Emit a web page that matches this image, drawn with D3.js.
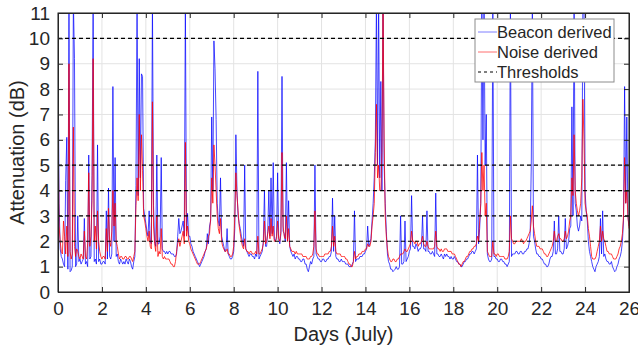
<!DOCTYPE html>
<html>
<head>
<meta charset="utf-8">
<script src="https://cdn.jsdelivr.net/npm/d3@7"></script>
<style>
  body { margin: 0; background: #fff; }
  text { font-family: "Liberation Sans", Arial, sans-serif; fill: #262626; }
</style>
</head>
<body>
<div class="canvas"></div>
<script>
// samples every 0.05 day, day 0 .. 26 (one row per day)
const step = 0.05;
const beacon = [
  9.8, 3.5, 1.7, 1.4, 1.3, 1.1, 1.0, 4.4, 6.1, 0.9, 11.5, 0.8, 0.85, 1.0, 11.5, 9.2, 1.0, 1.1, 3.0, 1.2,
  1.3, 1.1, 1.2, 1.3, 2.9, 1.1, 1.2, 1.0, 5.4, 1.3, 1.4, 4.6, 11.5, 1.2, 1.3, 1.1, 5.8, 1.2, 1.3, 1.1,
  1.1, 1.2, 1.2, 1.1, 3.2, 1.3, 4.1, 1.4, 1.3, 1.5, 8.1, 2.0, 5.3, 1.4, 1.5, 1.2, 1.1, 1.3, 1.2, 1.1,
  1.2, 1.1, 1.3, 1.2, 1.1, 1.3, 1.2, 1.0, 0.9, 1.2, 1.4, 4.2, 11.5, 3.8, 9.2, 4.5, 8.6, 8.5, 3.3, 3.0,
  2.7, 2.4, 2.2, 3.2, 2.0, 1.9, 11.5, 3.4, 2.0, 1.8, 5.4, 1.9, 1.9, 2.2, 5.3, 1.7, 1.6, 1.6, 1.5, 1.6,
  1.5, 1.6, 1.6, 1.5, 1.5, 1.5, 1.4, 1.4, 1.5, 2.2, 2.9, 2.3, 2.4, 2.6, 2.8, 2.2, 11.5, 2.4, 3.1, 2.2,
  2.2, 1.9, 1.8, 1.6, 1.5, 1.4, 1.3, 1.2, 1.1, 1.0, 1.1, 1.2, 1.3, 1.4, 1.6, 1.7, 2.3, 1.9, 2.6, 2.8,
  6.9, 4.0, 9.9, 8.8, 6.8, 3.5, 2.8, 2.6, 4.5, 2.2, 2.0, 1.8, 1.6, 1.7, 2.5, 1.5, 1.4, 1.3, 1.3, 1.4,
  1.6, 2.5, 6.2, 4.0, 3.0, 2.7, 2.5, 2.2, 2.0, 1.8, 5.0, 1.7, 1.6, 1.5, 1.4, 1.5, 1.5, 1.4, 1.4, 1.3,
  1.5, 1.4, 8.7, 1.3, 1.4, 1.5, 1.6, 2.0, 4.0, 1.8, 1.8, 2.4, 4.0, 2.2, 4.5, 2.3, 5.1, 2.1, 2.0, 2.2,
  4.7, 2.1, 1.9, 2.3, 8.5, 2.4, 2.3, 2.0, 5.1, 2.0, 3.6, 1.8, 1.6, 1.5, 1.4, 1.5, 1.3, 1.4, 1.4, 1.3,
  1.3, 1.2, 1.2, 1.3, 1.3, 1.1, 1.1, 0.9, 0.8, 1.0, 1.2, 1.1, 1.3, 1.4, 5.0, 1.5, 1.4, 1.3, 1.3, 1.2,
  1.2, 1.3, 1.3, 1.2, 1.2, 1.3, 1.3, 1.4, 1.4, 1.6, 3.7, 1.6, 3.0, 1.4, 1.3, 1.3, 1.2, 1.2, 1.3, 1.2,
  1.2, 1.2, 1.1, 1.1, 1.1, 1.0, 1.0, 1.0, 1.1, 1.2, 3.2, 1.2, 1.3, 1.3, 1.3, 1.4, 1.4, 1.4, 1.5, 1.5,
  1.6, 1.7, 2.6, 1.8, 1.9, 2.1, 2.8, 3.5, 4.5, 6.0, 11.5, 5.0, 11.5, 4.5, 8.3, 4.0, 11.5, 5.0, 3.5, 2.4,
  1.5, 1.2, 1.1, 0.9, 0.9, 0.8, 0.85, 0.9, 1.0, 0.9, 0.9, 1.0, 3.0, 1.1, 1.1, 1.2, 2.8, 1.2, 1.3, 1.4,
  1.6, 1.7, 3.8, 1.8, 1.8, 1.7, 1.9, 1.8, 1.6, 1.7, 1.7, 1.8, 3.0, 1.7, 1.7, 1.6, 3.2, 1.6, 1.6, 1.5,
  1.5, 1.6, 1.5, 1.4, 3.9, 1.5, 1.5, 1.4, 1.4, 1.5, 1.4, 1.3, 1.5, 1.4, 1.5, 1.4, 1.4, 1.3, 1.4, 1.3,
  1.3, 1.4, 1.3, 1.2, 1.2, 1.1, 1.1, 1.0, 1.0, 1.1, 1.2, 1.2, 1.3, 1.3, 1.4, 1.5, 1.5, 1.6, 1.6, 1.5,
  1.6, 1.7, 5.4, 1.9, 2.5, 3.5, 11.5, 6.0, 11.5, 5.0, 7.0, 1.5, 1.3, 1.2, 1.2, 1.3, 11.5, 1.4, 1.4, 1.3,
  1.3, 1.2, 1.2, 1.3, 1.3, 1.2, 1.2, 1.1, 1.1, 1.0, 1.1, 1.2, 11.5, 1.4, 1.5, 1.5, 1.5, 1.6, 1.6, 1.5,
  1.5, 1.6, 1.6, 1.5, 1.5, 1.6, 1.6, 1.7, 1.7, 1.9, 2.3, 5.0, 11.5, 2.2, 2.0, 1.7, 1.5, 1.5, 1.4, 1.4,
  1.3, 1.3, 1.2, 1.1, 1.1, 1.0, 1.0, 1.1, 1.3, 1.4, 1.4, 1.6, 2.8, 1.5, 1.5, 1.7, 3.0, 1.6, 1.6, 1.5,
  1.5, 1.7, 2.9, 1.7, 1.8, 2.0, 2.5, 2.6, 7.3, 3.0, 11.5, 3.5, 3.2, 2.6, 2.4, 2.6, 3.0, 2.8, 11.5, 11.5,
  4.0, 3.2, 2.8, 2.0, 1.6, 1.4, 1.2, 1.0, 0.9, 0.8, 1.0, 1.1, 1.2, 1.4, 2.9, 1.5, 3.2, 1.4, 1.5, 1.3,
  1.2, 1.2, 1.1, 1.1, 1.2, 1.0, 0.9, 0.8, 0.85, 1.0, 1.1, 1.3, 1.4, 1.6, 2.0, 2.8, 8.1, 3.5, 6.9, 3.0,
  2.6
];
const noise = [
  7.0, 2.6, 2.0, 1.6, 1.5, 2.8, 2.2, 1.5, 2.6, 1.4, 9.0, 1.6, 1.3, 1.5, 6.5, 1.8, 1.4, 1.7, 1.6, 1.4,
  1.3, 1.5, 1.4, 1.3, 2.4, 1.4, 1.3, 1.9, 4.7, 1.8, 2.2, 3.6, 9.2, 2.0, 2.6, 1.7, 3.2, 2.0, 1.6, 1.4,
  1.3, 1.4, 1.4, 1.3, 2.5, 1.6, 3.3, 2.0, 1.8, 2.4, 4.0, 2.6, 3.5, 2.0, 1.8, 1.5, 1.3, 1.4, 1.4, 1.3,
  1.3, 1.4, 1.4, 1.3, 1.3, 1.4, 1.4, 1.3, 1.2, 1.4, 1.6, 3.4, 4.5, 3.6, 7.0, 4.0, 6.2, 4.8, 3.0, 2.8,
  2.5, 2.2, 2.0, 2.4, 1.8, 1.7, 7.5, 2.6, 1.9, 1.6, 3.0, 1.4, 1.6, 1.5, 2.5, 1.4, 1.3, 1.4, 1.3, 1.3,
  1.3, 1.3, 1.2, 1.1, 1.1, 1.0, 1.0, 1.2, 1.6, 1.9, 2.1, 1.8, 2.0, 2.2, 2.4, 1.9, 5.9, 2.2, 2.6, 2.0,
  1.9, 1.7, 1.6, 1.5, 1.4, 1.3, 1.2, 1.1, 1.1, 1.1, 1.2, 1.3, 1.4, 1.5, 1.6, 1.7, 1.9, 2.2, 2.3, 2.9,
  4.5, 3.5, 5.8, 5.0, 4.0, 3.0, 2.5, 2.3, 2.9, 2.0, 1.8, 1.7, 1.6, 1.6, 1.7, 1.5, 1.5, 1.4, 1.4, 1.5,
  1.8, 3.0, 4.7, 3.8, 3.2, 2.6, 2.3, 2.0, 1.8, 1.7, 2.1, 1.7, 1.6, 1.6, 1.5, 1.6, 1.6, 1.5, 1.5, 1.5,
  1.6, 1.5, 2.2, 1.5, 1.5, 1.6, 1.7, 1.9, 2.8, 1.9, 2.0, 2.3, 2.6, 2.1, 2.9, 2.2, 2.6, 2.0, 2.0, 2.1,
  2.8, 2.1, 2.0, 2.4, 5.5, 2.6, 2.2, 2.1, 3.0, 2.0, 2.5, 1.8, 1.7, 1.6, 1.6, 1.6, 1.5, 1.6, 1.5, 1.5,
  1.5, 1.5, 1.5, 1.4, 1.4, 1.4, 1.4, 1.3, 1.3, 1.3, 1.4, 1.4, 1.5, 1.8, 3.2, 1.7, 1.5, 1.5, 1.4, 1.4,
  1.4, 1.4, 1.4, 1.5, 1.5, 1.5, 1.5, 1.6, 1.6, 1.8, 2.6, 1.8, 2.2, 1.6, 1.5, 1.5, 1.5, 1.5, 1.4, 1.4,
  1.4, 1.4, 1.3, 1.3, 1.2, 1.1, 1.1, 1.0, 1.0, 1.2, 1.6, 1.3, 1.4, 1.4, 1.5, 1.5, 1.5, 1.6, 1.6, 1.6,
  1.7, 1.7, 1.9, 1.8, 1.8, 2.0, 2.6, 3.0, 3.5, 5.5, 7.4, 4.5, 5.0, 4.0, 4.0, 5.5, 11.5, 6.0, 3.0, 2.2,
  1.7, 1.4, 1.3, 1.2, 1.2, 1.3, 1.3, 1.2, 1.2, 1.3, 1.3, 1.4, 1.5, 1.5, 1.5, 1.6, 1.7, 1.6, 1.6, 1.7,
  1.8, 1.9, 2.4, 2.0, 2.0, 1.9, 2.0, 2.0, 1.8, 1.9, 1.9, 2.0, 2.2, 1.9, 1.8, 1.8, 2.0, 1.8, 1.7, 1.7,
  1.7, 1.7, 1.7, 1.8, 2.4, 1.8, 1.7, 1.7, 1.6, 1.7, 1.6, 1.6, 1.7, 1.7, 1.7, 1.6, 1.6, 1.6, 1.6, 1.5,
  1.5, 1.5, 1.4, 1.3, 1.2, 1.1, 1.1, 1.0, 1.1, 1.2, 1.2, 1.3, 1.4, 1.4, 1.5, 1.6, 1.6, 1.7, 1.7, 1.8,
  1.8, 1.9, 2.2, 2.0, 2.8, 3.5, 5.5, 4.0, 5.0, 3.0, 3.5, 1.6, 1.5, 1.4, 1.4, 1.4, 2.0, 1.5, 1.5, 1.4,
  1.5, 1.5, 1.4, 1.4, 1.4, 1.4, 1.4, 1.3, 1.3, 1.3, 1.4, 1.6, 3.0, 2.1, 2.0, 1.9, 1.9, 2.0, 2.0, 2.0,
  2.0, 2.0, 2.1, 2.0, 1.9, 2.0, 2.0, 2.1, 2.2, 2.3, 2.4, 2.8, 3.4, 2.6, 2.3, 2.0, 1.8, 1.8, 1.8, 1.7,
  1.7, 1.7, 1.6, 1.5, 1.5, 1.4, 1.4, 1.5, 1.6, 1.7, 1.8, 2.0, 2.4, 2.0, 2.0, 2.2, 2.3, 2.1, 2.1, 2.0,
  2.0, 2.1, 2.4, 2.1, 2.2, 2.4, 2.8, 3.0, 4.5, 3.8, 6.2, 4.0, 3.5, 3.2, 3.0, 3.2, 3.5, 4.5, 7.6, 6.0,
  3.5, 3.2, 3.0, 2.5, 2.2, 1.8, 1.4, 1.3, 1.3, 1.3, 1.4, 1.6, 1.8, 2.0, 2.6, 2.0, 2.4, 2.1, 2.0, 1.8,
  1.6, 1.6, 1.5, 1.5, 1.5, 1.4, 1.3, 1.3, 1.3, 1.4, 1.5, 1.7, 1.8, 2.0, 2.3, 3.0, 5.3, 3.5, 4.0, 3.0,
  2.5
];
const thresholds = [2, 3, 4, 5, 10];
const xTicks = d3.range(0, 27, 2);
const yTicks = d3.range(0, 12, 1);
const legendLabels = ['Beacon derived', 'Noise derived', 'Thresholds'];

const margin = {top: 13, right: 9, bottom: 58, left: 58};
const width = 638, height = 350;
const w = width - margin.left - margin.right;
const h = height - margin.top - margin.bottom;

const svg = d3.select('.canvas').append('svg')
  .attr('width', width).attr('height', height);

const g = svg.append('g').attr('transform', `translate(${margin.left},${margin.top})`);

const x = d3.scaleLinear().domain([0, 26]).range([0, w]);
const y = d3.scaleLinear().domain([0, 11]).range([h, 0]);

// grid
g.append('g').selectAll('line').data(xTicks).join('line')
  .attr('x1', d => x(d)).attr('x2', d => x(d)).attr('y1', 0).attr('y2', h)
  .attr('stroke', '#e3e3e3').attr('stroke-width', 1);
g.append('g').selectAll('line').data(yTicks).join('line')
  .attr('y1', d => y(d)).attr('y2', d => y(d)).attr('x1', 0).attr('x2', w)
  .attr('stroke', '#e3e3e3').attr('stroke-width', 1);

svg.append('clipPath').attr('id', 'clip').append('rect')
  .attr('width', w).attr('height', h);

const plot = g.append('g').attr('clip-path', 'url(#clip)');
const line = d3.line().x((d, i) => x(i * step)).y(d => y(d));

plot.append('path').datum(beacon)
  .attr('d', line).attr('fill', 'none')
  .attr('stroke', '#0000ff').attr('stroke-width', 0.9).attr('stroke-opacity', 0.8);
plot.append('path').datum(noise)
  .attr('d', line).attr('fill', 'none')
  .attr('stroke', '#ff0000').attr('stroke-width', 0.9).attr('stroke-opacity', 0.85);

plot.selectAll('.thr').data(thresholds).join('line')
  .attr('class', 'thr')
  .attr('x1', 0).attr('x2', w).attr('y1', d => y(d)).attr('y2', d => y(d))
  .attr('stroke', '#000').attr('stroke-width', 1.2).attr('stroke-dasharray', '4,3');

// axes, matlab style ticks inside
const xAxis = d3.axisBottom(x).tickValues(xTicks).tickSize(-5).tickPadding(10);
const yAxis = d3.axisLeft(y).tickValues(yTicks).tickSize(-5).tickPadding(8);
const xg = g.append('g').attr('transform', `translate(0,${h})`).call(xAxis);
const yg = g.append('g').call(yAxis);
g.append('g').call(d3.axisTop(x).tickValues(xTicks).tickSize(-5).tickFormat(''));
g.append('g').attr('transform', `translate(${w},0)`).call(d3.axisRight(y).tickValues(yTicks).tickSize(-5).tickFormat(''));
g.selectAll('.domain, .tick line').attr('stroke', '#262626');
xg.selectAll('text').attr('font-size', 19);
yg.selectAll('text').attr('font-size', 19);
g.selectAll('.tick text').attr('fill', '#262626').style('font-family', '"Liberation Sans", Arial, sans-serif');

g.append('rect').attr('width', w).attr('height', h)
  .attr('fill', 'none').attr('stroke', '#262626').attr('stroke-width', 1);

svg.append('text')
  .attr('transform', `translate(24,${margin.top + h / 2}) rotate(-90)`)
  .attr('text-anchor', 'middle').attr('font-size', 20)
  .text('Attenuation (dB)');
svg.append('text')
  .attr('x', margin.left + w / 2).attr('y', 341)
  .attr('text-anchor', 'middle').attr('font-size', 20)
  .text('Days (July)');

// legend
const lg = svg.append('g').attr('transform', 'translate(475,19)');
lg.append('rect').attr('width', 139).attr('height', 63)
  .attr('fill', '#fff').attr('stroke', '#8c8c8c').attr('stroke-width', 1);
const lstyles = [
  {c: '#7f7fff', dash: null},
  {c: '#ff6f6f', dash: null},
  {c: '#000', dash: '3,3'}
];
legendLabels.forEach((t, i) => {
  const yy = 13 + i * 20;
  lg.append('line').attr('x1', 3).attr('x2', 22).attr('y1', yy).attr('y2', yy)
    .attr('stroke', lstyles[i].c).attr('stroke-width', 1)
    .attr('stroke-dasharray', lstyles[i].dash);
  lg.append('text').attr('x', 22).attr('y', yy + 6).attr('font-size', 16.5).text(t);
});
</script>
</body>
</html>
